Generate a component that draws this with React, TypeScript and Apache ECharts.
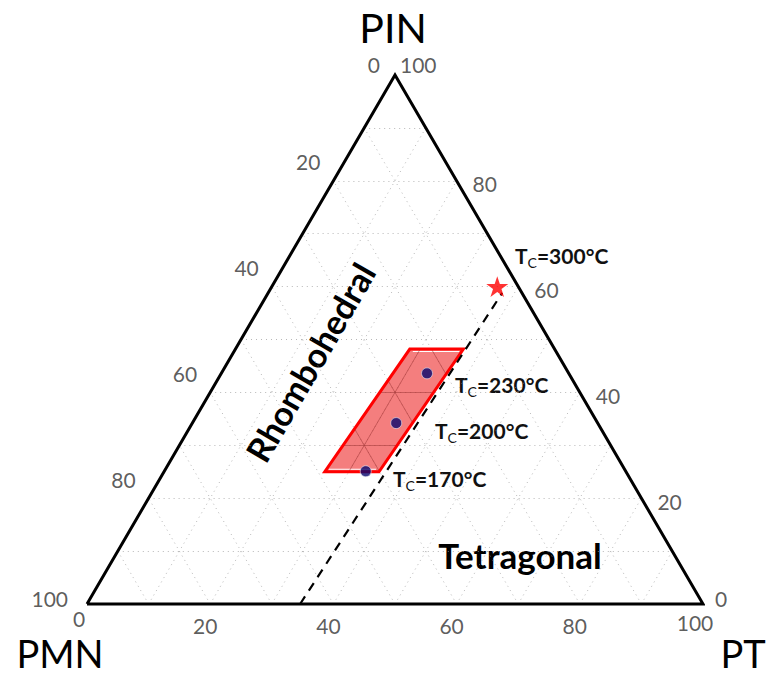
import React, { useEffect, useRef } from "react";
import * as echarts from "echarts";

// Compositions are given as [PIN, PT] in mol%; PMN = 100 - PIN - PT.
const TICKS = [0, 20, 40, 60, 80, 100];
const GRID_STEPS = [10, 20, 30, 40, 50, 60, 70, 80, 90];
const REGION: [number, number][] = [
  [25, 26.1],
  [25, 34.9],
  [48.2, 37.0],
  [48.2, 28.3],
];
const SAMPLES: [number, number][] = [
  [43.6, 33.4],
  [34.2, 33.1],
  [25.1, 32.7],
];
const STAR_POINT: [number, number][] = [[60, 36.6]];
const MPB_LINE: [number, number][] = [
  [0, 34.6],
  [58.8, 38.0],
];
const TC_VALUES = [300, 230, 200, 170];

const FONT = "Lato, 'Open Sans', sans-serif";

// Ternary [PIN, PT] -> cartesian (x along the base, y upward)
const toXY = ([pin, pt]: [number, number]): [number, number] => [pt + pin / 2, pin];

// Clip a segment to a convex polygon (counter-clockwise, y up)
function clipSegment(
  a: [number, number],
  b: [number, number],
  poly: [number, number][]
): [number, number][] | null {
  let t0 = 0;
  let t1 = 1;
  const d = [b[0] - a[0], b[1] - a[1]];
  for (let i = 0; i < poly.length; i++) {
    const v = poly[i];
    const w = poly[(i + 1) % poly.length];
    const e = [w[0] - v[0], w[1] - v[1]];
    const c0 = e[0] * (a[1] - v[1]) - e[1] * (a[0] - v[0]);
    const cd = e[0] * d[1] - e[1] * d[0];
    if (Math.abs(cd) < 1e-9) {
      if (c0 < 0) return null;
      continue;
    }
    const t = -c0 / cd;
    if (cd > 0) t0 = Math.max(t0, t);
    else t1 = Math.min(t1, t);
    if (t0 >= t1) return null;
  }
  return [
    [a[0] + d[0] * t0, a[1] + d[1] * t0],
    [a[0] + d[0] * t1, a[1] + d[1] * t1],
  ];
}

// Grid lines at constant PIN, PT and PMN
const gridSegments: [number, number][][] = [];
for (const k of GRID_STEPS) {
  gridSegments.push([toXY([k, 0]), toXY([k, 100 - k])]);
  gridSegments.push([toXY([0, k]), toXY([100 - k, k])]);
  gridSegments.push([toXY([0, 100 - k]), toXY([100 - k, 0])]);
}
const regionXY = REGION.map(toXY);
const innerSegments = gridSegments
  .map((s) => clipSegment(s[0], s[1], regionXY))
  .filter((s): s is [number, number][] => !!s);

// Tick label placement for each triangle edge
const TICK_STYLE = { fontSize: 21, lineHeight: 20, color: "#333", fontFamily: FONT };

function tickItem(xy: [number, number], text: string, off: number[], align: string) {
  return {
    value: xy,
    label: { show: true, formatter: text, position: off, align, verticalAlign: "middle", ...TICK_STYLE },
  };
}

const tickData: any[] = [];
for (const p of TICKS) {
  // PMN along the left edge
  const offL = p === 0 ? [-15, -11] : p === 100 ? [-19, -6] : [-13, -19];
  tickData.push(tickItem(toXY([100 - p, 0]), String(p), offL, "right"));
  // PIN along the right edge
  const offR = p === 100 ? [5, -11] : p === 0 ? [12, -6] : [16, 3];
  tickData.push(tickItem(toXY([p, 100 - p]), String(p), offR, "left"));
  // PT along the base
  const offB = p === 0 ? [-8, 14] : p === 100 ? [-8, 18] : [-5, 21];
  tickData.push(tickItem(toXY([0, p]), String(p), offB, "center"));
}

const TC_POS = [
  [515, 255],
  [455, 384],
  [435, 430],
  [393, 478],
];

const STAR_PATH =
  "path://M50,0 L61.2,34.5 L97.6,34.5 L68.2,55.9 L79.4,90.5 L50,69.1 L20.6,90.5 L31.8,55.9 L2.4,34.5 L38.8,34.5 Z";

export default function App() {
  const ref = useRef<HTMLDivElement>(null);

  useEffect(() => {
    const chart = echarts.init(ref.current!, null, { renderer: "svg" });

    const option: any = {
      animation: false,
      backgroundColor: "#fff",
      grid: { left: 87, right: 65, top: 75, bottom: 71 },
      xAxis: { type: "value", min: 0, max: 100, show: false },
      yAxis: { type: "value", min: 0, max: 100, show: false },
      series: [
        {
          type: "lines",
          coordinateSystem: "cartesian2d",
          silent: true,
          z: 1,
          data: gridSegments.map((s) => ({ coords: s })),
          lineStyle: { color: "#999", width: 1, type: [1, 4], opacity: 0.7 },
        },
        {
          type: "custom",
          z: 2,
          silent: true,
          data: [[0, 0]],
          clip: false,
          renderItem: (_params: any, api: any) => {
            const pts = regionXY.map((p) => api.coord(p));
            const [bl, br, tr, tl] = pts;
            return {
              type: "group",
              children: [
                {
                  type: "polygon",
                  shape: { points: pts },
                  style: { fill: "rgba(236,40,40,0.6)", stroke: "none" },
                },
                {
                  type: "line",
                  shape: { x1: tl[0] + 3, y1: tl[1] + 2.5, x2: tr[0] - 4, y2: tr[1] + 2.5 },
                  style: { stroke: "#fff", lineWidth: 1.2 },
                },
                {
                  type: "line",
                  shape: { x1: bl[0] + 4, y1: bl[1] - 2.5, x2: br[0] - 3, y2: br[1] - 2.5 },
                  style: { stroke: "#fff", lineWidth: 1.2 },
                },
              ],
            };
          },
        },
        {
          type: "lines",
          coordinateSystem: "cartesian2d",
          silent: true,
          z: 3,
          data: innerSegments.map((s) => ({ coords: s })),
          lineStyle: { color: "#a33a3a", width: 1, opacity: 0.55 },
        },
        {
          type: "custom",
          z: 4,
          silent: true,
          data: [[0, 0]],
          clip: false,
          renderItem: (_params: any, api: any) => ({
            type: "polygon",
            shape: { points: regionXY.map((p) => api.coord(p)) },
            style: { fill: "none", stroke: "#ff0000", lineWidth: 3, lineJoin: "miter" },
          }),
        },
        {
          type: "line",
          z: 5,
          silent: true,
          clip: false,
          symbol: "none",
          data: MPB_LINE.map(toXY),
          lineStyle: { color: "#000", width: 2.2, type: [9, 7] },
        },
        {
          type: "line",
          z: 6,
          silent: true,
          clip: false,
          symbol: "none",
          data: [toXY([0, 0]), toXY([0, 100]), toXY([100, 0]), toXY([0, 0])],
          lineStyle: { color: "#000", width: 3, join: "miter" },
        },
        {
          type: "scatter",
          z: 7,
          silent: true,
          clip: false,
          symbolSize: 11,
          data: SAMPLES.map(toXY),
          itemStyle: { color: "#06066e", borderColor: "#e6e6f0", borderWidth: 0.8 },
        },
        {
          type: "scatter",
          z: 7,
          silent: true,
          clip: false,
          symbol: STAR_PATH,
          symbolKeepAspect: true,
          symbolSize: 22,
          data: STAR_POINT.map(toXY),
          itemStyle: { color: "#ff0000" },
        },
        {
          type: "scatter",
          z: 8,
          silent: true,
          clip: false,
          symbolSize: 0,
          data: tickData,
        },
      ],
      graphic: [
        {
          type: "text",
          x: 393,
          y: 27,
          style: { text: "PIN", fontSize: 41, lineHeight: 40, fontFamily: FONT, fill: "#000", align: "center", verticalAlign: "middle" },
        },
        {
          type: "text",
          x: 60,
          y: 653,
          style: { text: "PMN", fontSize: 38, lineHeight: 36, fontFamily: FONT, fill: "#000", align: "center", verticalAlign: "middle" },
        },
        {
          type: "text",
          x: 743,
          y: 653,
          style: { text: "PT", fontSize: 38, lineHeight: 36, fontFamily: FONT, fill: "#000", align: "center", verticalAlign: "middle" },
        },
        {
          type: "text",
          x: 310,
          y: 362,
          rotation: Math.PI / 3,
          style: {
            text: "Rhombohedral",
            fontSize: 34,
            fontWeight: "bold",
            fontFamily: FONT,
            fill: "#000",
            align: "center",
            verticalAlign: "middle",
          },
        },
        {
          type: "text",
          x: 520,
          y: 555,
          style: {
            text: "Tetragonal",
            fontSize: 35,
            fontWeight: "bold",
            fontFamily: FONT,
            fill: "#000",
            align: "center",
            verticalAlign: "middle",
          },
        },
        ...TC_VALUES.map((v, i) => ({
          type: "text",
          x: TC_POS[i][0],
          y: TC_POS[i][1],
          style: {
            text: `{t|T}{s|C}{t|=${v}°C}`,
            align: "left",
            verticalAlign: "middle",
            fill: "#111",
            rich: {
              t: { fontSize: 21, fontWeight: "bold", fontFamily: FONT, fill: "#111", lineHeight: 28 },
              s: {
                fontSize: 14,
                fontFamily: FONT,
                fill: "#111",
                lineHeight: 15,
                verticalAlign: "bottom",
              },
            },
          },
        })),
      ],
    };

    chart.setOption(option);
    return () => chart.dispose();
  }, []);

  return (
    <div
      ref={ref}
      style={{ position: "absolute", left: 0, top: 0, width: 768, height: 675 }}
    />
  );
}
